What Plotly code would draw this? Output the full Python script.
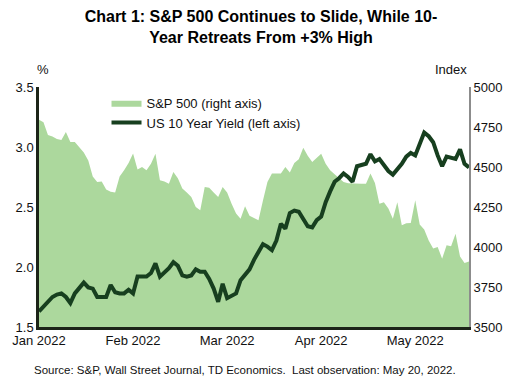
import pandas as pd
import plotly.graph_objects as go

# ---- data ----
holidays = ["2022-01-17", "2022-02-21", "2022-04-15"]
dates = [d.strftime("%Y-%m-%d") for d in pd.bdate_range("2022-01-03", "2022-05-20")
         if d.strftime("%Y-%m-%d") not in holidays]

yield_10y = [
    1.63, 1.67, 1.71, 1.75, 1.77, 1.78, 1.75, 1.70, 1.78, 1.82,
    1.87, 1.83, 1.82, 1.75, 1.75, 1.75, 1.85, 1.79, 1.78, 1.78,
    1.81, 1.78, 1.92, 1.92, 1.92, 1.95, 2.03, 1.92, 1.95, 1.99,
    2.04, 2.01, 1.93, 1.92, 1.93, 1.98, 1.96, 1.96, 1.90, 1.82,
    1.71, 1.86, 1.74, 1.76, 1.78, 1.89, 1.93, 1.98, 2.06, 2.13,
    2.19, 2.17, 2.14, 2.22, 2.36, 2.32, 2.45, 2.47, 2.46, 2.40,
    2.34, 2.33, 2.39, 2.42, 2.54, 2.63, 2.71, 2.74, 2.78, 2.75,
    2.71, 2.84, 2.85, 2.86, 2.94, 2.88, 2.90, 2.85, 2.80, 2.77,
    2.81, 2.86, 2.92, 2.95, 2.93, 3.02, 3.12, 3.09, 3.04, 2.93,
    2.84, 2.92, 2.91, 2.90, 2.98, 2.86, 2.83,
]

sp500 = [
    4796, 4780, 4700, 4690, 4675, 4668, 4718, 4656, 4656, 4620,
    4590, 4540, 4440, 4406, 4410, 4360, 4345, 4340, 4440, 4479,
    4525, 4585, 4485, 4500, 4480, 4520, 4583, 4417, 4410, 4396,
    4469, 4430, 4365, 4340, 4313, 4250, 4229, 4375, 4370, 4340,
    4313, 4375, 4340, 4271, 4210, 4177, 4255, 4195, 4180, 4167,
    4290, 4406, 4459, 4459, 4460, 4500, 4465, 4525, 4548, 4620,
    4570, 4531, 4560, 4583, 4520, 4479, 4455, 4430, 4406, 4398,
    4396, 4396, 4396, 4396, 4459, 4400, 4271, 4280, 4240, 4177,
    4280, 4136, 4148, 4150, 4292, 4140, 4110, 4040, 3990, 4000,
    3927, 4011, 4005, 4083, 3940, 3900, 3910,
]

tick_idx = [0, 21, 42, 63, 84]
tick_labels = ["Jan 2022", "Feb 2022", "Mar 2022", "Apr 2022", "May 2022"]

FILL = "#acd89d"
LINE = "#173f1f"
FONT = "Liberation Sans, Arial, sans-serif"

fig = go.Figure()
fig.add_trace(go.Scatter(
    x=dates, y=sp500, name="S&P 500 (right axis)", yaxis="y",
    mode="lines", line=dict(width=0, color=FILL), fill="tozeroy", fillcolor=FILL,
))
fig.add_trace(go.Scatter(
    x=dates, y=yield_10y, name="US 10 Year Yield (left axis)", yaxis="y2",
    mode="lines", line=dict(width=4, color=LINE),
))

fig.update_layout(
    width=515, height=384,
    margin=dict(l=34, r=45, t=87, b=57),
    paper_bgcolor="white", plot_bgcolor="white",
    font=dict(family=FONT, size=13, color="#111111"),
    title=dict(
        text="<b>Chart 1: S&P 500 Continues to Slide, While 10-<br>Year Retreats From +3% High</b>",
        x=261 / 515, xanchor="center", y=0.942, yanchor="middle", yref="container",
        font=dict(family=FONT, size=16, color="#000000"),
    ),
    xaxis=dict(
        type="category", range=[0, 96],
        tickmode="array", tickvals=[dates[i] for i in tick_idx], ticktext=tick_labels,
        showgrid=False, zeroline=False, ticks="",
        showline=True, linecolor="#1c2418", linewidth=2.5,
        tickfont=dict(size=13, color="#111111"),
    ),
    yaxis=dict(
        side="right", range=[3500, 5000], dtick=250, tick0=3500,
        showgrid=False, zeroline=False, ticks="",
        showline=True, linecolor="#8c8c8c", linewidth=2,
        tickfont=dict(size=13, color="#111111"),
    ),
    yaxis2=dict(
        overlaying="y", side="left", range=[1.5, 3.5], dtick=0.5, tick0=1.5,
        tickformat=".1f", showgrid=False, zeroline=False, ticks="",
        showline=True, linecolor="#1c2418", linewidth=2.5,
        tickfont=dict(size=13, color="#111111"),
    ),
    legend=dict(
        x=0.157, y=0.997, xanchor="left", yanchor="top",
        bgcolor="rgba(0,0,0,0)", font=dict(size=13, color="#111111"),
    ),
    showlegend=True,
    annotations=[
        dict(text="%", xref="paper", yref="paper", x=0.0, y=1.0, xanchor="center",
             xshift=4, yanchor="bottom", yshift=8, showarrow=False, font=dict(size=13)),
        dict(text="Index", xref="paper", yref="paper", x=1.0, y=1.0, xanchor="right",
             yanchor="bottom", yshift=8, showarrow=False, font=dict(size=13)),
        dict(text="Source: S&P, Wall Street Journal, TD Economics.  Last observation: May 20, 2022.",
             xref="paper", yref="paper", x=(243 - 34) / 436, y=0, xanchor="center", yanchor="middle",
             yshift=-43, showarrow=False, font=dict(size=11.5, color="#111111")),
    ],
)

fig.write_html("out.html")
